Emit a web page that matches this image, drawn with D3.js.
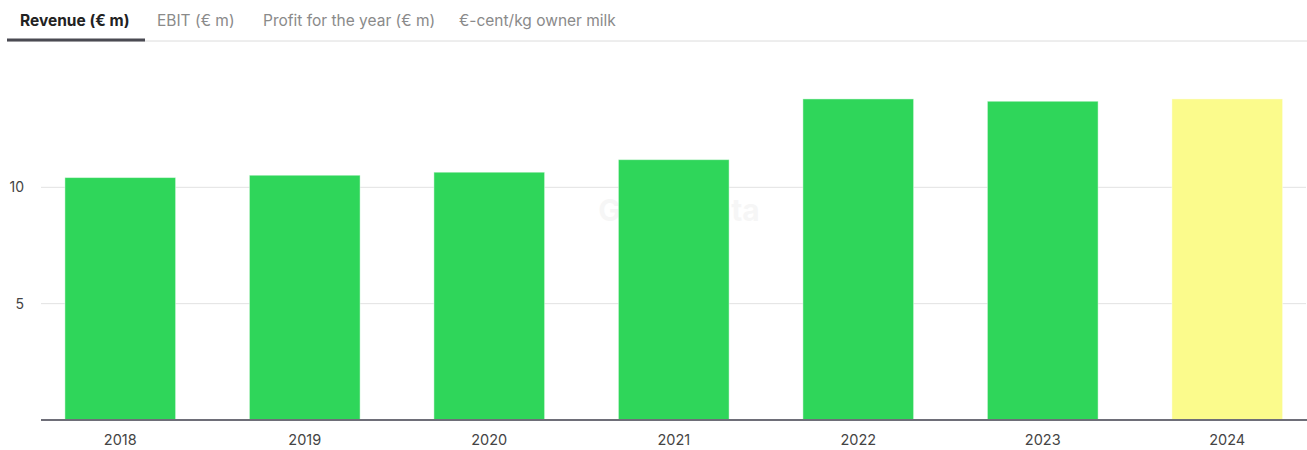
<!DOCTYPE html>
<html>
<head>
<meta charset="utf-8">
<script src="https://cdn.jsdelivr.net/npm/d3@7"></script>
<style>
  body { margin: 0; background: #fff; font-family: Inter, "Noto Sans", sans-serif; }
  svg { display: block; }
</style>
</head>
<body>
<div id="chart"></div>
<script>
// data
var years = ["2018", "2019", "2020", "2021", "2022", "2023", "2024"];
var revenue = [10.42, 10.52, 10.65, 11.19, 13.80, 13.70, 13.80];
var forecast = ["2024"];
var yTicks = [5, 10];
var tabs = ["Revenue (€ m)", "EBIT (€ m)", "Profit for the year (€ m)", "€-cent/kg owner milk"];
var tabX = [20, 157, 263, 459];

var width = 1307, height = 450;

var svg = d3.select("#chart")
  .append("svg")
  .attr("width", width)
  .attr("height", height);

// tab strip
svg.append("line")
  .attr("x1", 7).attr("x2", 1307)
  .attr("y1", 41).attr("y2", 41)
  .attr("stroke", "#dcdcdc").attr("stroke-width", 1);
svg.append("line")
  .attr("x1", 7).attr("x2", 145)
  .attr("y1", 40).attr("y2", 40)
  .attr("stroke", "#4a4a52").attr("stroke-width", 3);

svg.selectAll(".tab")
  .data(tabs)
  .enter()
  .append("text")
  .attr("class", "tab")
  .attr("x", function (d, i) { return tabX[i]; })
  .attr("y", 26)
  .style("font-size", "15.5px")
  .style("font-weight", function (d, i) { return i == 0 ? "700" : "400"; })
  .style("fill", function (d, i) { return i == 0 ? "#222" : "#8a8a8a"; })
  .text(function (d) { return d; });

// scales
var x = d3.scaleBand()
  .domain(years)
  .range([28, 1319.5])
  .paddingInner(0.4)
  .paddingOuter(0.2);

var y = d3.scaleLinear()
  .domain([0, 15])
  .range([420, 71]);

// gridlines
svg.append("g")
  .selectAll("line")
  .data(yTicks)
  .enter()
  .append("line")
  .attr("x1", 41).attr("x2", 1306)
  .attr("y1", function (d) { return y(d); })
  .attr("y2", function (d) { return y(d); })
  .attr("stroke", "#e2e2e2")
  .attr("stroke-width", 1);

// y labels
svg.append("g")
  .selectAll("text")
  .data(yTicks)
  .enter()
  .append("text")
  .attr("x", 24)
  .attr("y", function (d) { return y(d); })
  .attr("dy", "0.35em")
  .attr("text-anchor", "end")
  .style("font-size", "14px")
  .style("fill", "#444")
  .text(function (d) { return d; });

// watermark
svg.append("text")
  .attr("x", 679)
  .attr("y", 221)
  .attr("text-anchor", "middle")
  .style("font-size", "30px")
  .style("font-weight", "700")
  .style("fill", "#000")
  .style("opacity", 0.03)
  .text("GlobalData");

// bars
svg.append("g")
  .selectAll("rect")
  .data(years)
  .enter()
  .append("rect")
  .attr("x", function (d) { return x(d); })
  .attr("width", x.bandwidth())
  .attr("y", function (d, i) { return y(revenue[i]); })
  .attr("height", function (d, i) { return y(0) - y(revenue[i]); })
  .style("fill", function (d) { return forecast.indexOf(d) >= 0 ? "#fbfb8c" : "#2fd65a"; })
  .style("stroke", "#fff")
  .style("stroke-opacity", 0.45)
  .style("stroke-width", 1);

// x axis
var xAxis = svg.append("g")
  .attr("transform", "translate(0,420)")
  .call(d3.axisBottom(x).tickSize(0).tickPadding(15));
xAxis.select(".domain").remove();
xAxis.selectAll("text")
  .style("font-family", "Inter, 'Noto Sans', sans-serif")
  .style("font-size", "14.5px")
  .style("fill", "#444");

svg.append("line")
  .attr("x1", 41).attr("x2", 1307)
  .attr("y1", 420).attr("y2", 420)
  .attr("stroke", "#6e6e78")
  .attr("stroke-width", 2);
</script>
</body>
</html>
